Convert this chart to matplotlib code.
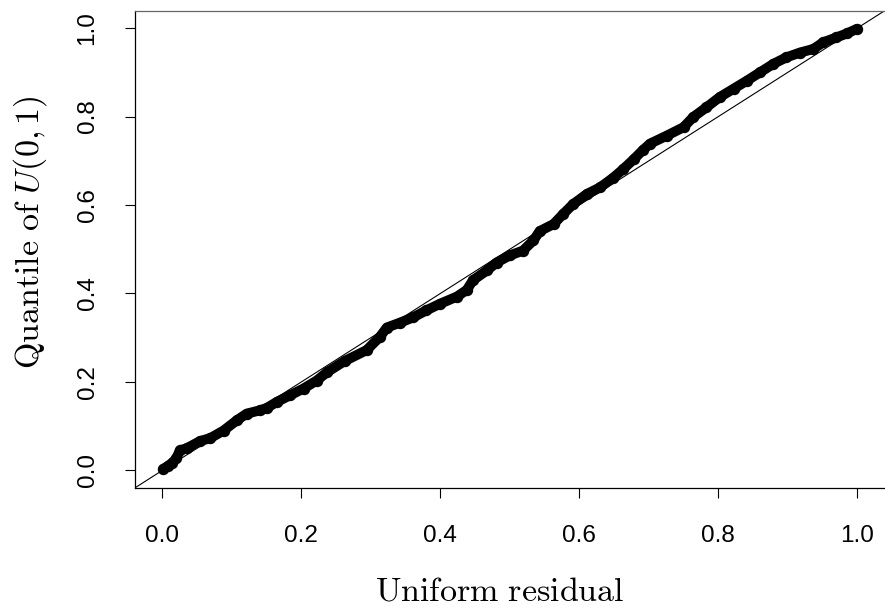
import matplotlib
matplotlib.use("Agg")
import matplotlib.pyplot as plt

plt.rcParams['mathtext.fontset'] = 'cm'
plt.rcParams['font.family'] = ['Liberation Sans', 'DejaVu Sans']

# Uniform residual (x) vs quantile of U(0,1) (y)
resid = [0.001, 0.008, 0.014, 0.020, 0.025, 0.035, 0.054, 0.069, 0.088, 0.107,
         0.121, 0.141, 0.150, 0.165, 0.184, 0.203, 0.222, 0.237, 0.262, 0.294,
         0.313, 0.323, 0.342, 0.361, 0.380, 0.400, 0.424, 0.438, 0.447, 0.467,
         0.481, 0.500, 0.519, 0.534, 0.543, 0.563, 0.577, 0.591, 0.611, 0.630,
         0.649, 0.663, 0.678, 0.692, 0.702, 0.726, 0.750, 0.764, 0.783, 0.802,
         0.822, 0.841, 0.860, 0.879, 0.898, 0.918, 0.937, 0.951, 0.970, 0.985,
         0.999]
quant = [0.003, 0.010, 0.017, 0.027, 0.045, 0.050, 0.066, 0.073, 0.090, 0.113,
         0.128, 0.136, 0.141, 0.155, 0.170, 0.185, 0.203, 0.222, 0.247, 0.272,
         0.302, 0.323, 0.334, 0.346, 0.362, 0.377, 0.393, 0.408, 0.430, 0.452,
         0.470, 0.486, 0.497, 0.520, 0.541, 0.557, 0.580, 0.602, 0.625, 0.640,
         0.662, 0.681, 0.703, 0.725, 0.739, 0.757, 0.776, 0.799, 0.821, 0.844,
         0.863, 0.881, 0.900, 0.919, 0.934, 0.945, 0.953, 0.968, 0.979, 0.988,
         0.998]
ticks = [0.0, 0.2, 0.4, 0.6, 0.8, 1.0]
tick_labels = ["0.0", "0.2", "0.4", "0.6", "0.8", "1.0"]

fig = plt.figure(figsize=(8.85, 6.12), dpi=100)
ax = fig.add_axes([134.7/885, 1-488/612, 1-134.7/885, (488-10.5)/612])
ax.set_xlim(-0.04, 1.04)
ax.set_ylim(-0.04, 1.04)

ax.axline((0, 0), slope=1, color='black', lw=0.8, zorder=2)
ax.plot(resid, quant, '-o', color='black', lw=7.2, ms=7.2,
        solid_capstyle='round', solid_joinstyle='round', zorder=3)

ax.set_xticks(ticks)
ax.set_xticklabels(tick_labels)
ax.set_yticks(ticks)
ax.set_yticklabels(tick_labels, rotation=90, va='center')
ax.tick_params(axis='both', length=7, width=0.8, labelsize=17.5, color='black')
ax.tick_params(axis='x', pad=20)
ax.tick_params(axis='y', pad=19)

ax.spines['right'].set_visible(False)
for s in ['left', 'bottom', 'top']:
    ax.spines[s].set_linewidth(0.9)
    ax.spines[s].set_color('black')
ax.spines['top'].set_color('#666666')

fig.text(499.5/885, 1-592/612, r'$\mathrm{Uniform\ residual}$', fontsize=24.5,
         ha='center', va='center')
fig.text(30/885, 1-232/612, r'$\mathrm{Quantile\ of\ }U(0,1)$', fontsize=24.5,
         ha='center', va='center', rotation=90)

fig.savefig('out.png', dpi=100)
